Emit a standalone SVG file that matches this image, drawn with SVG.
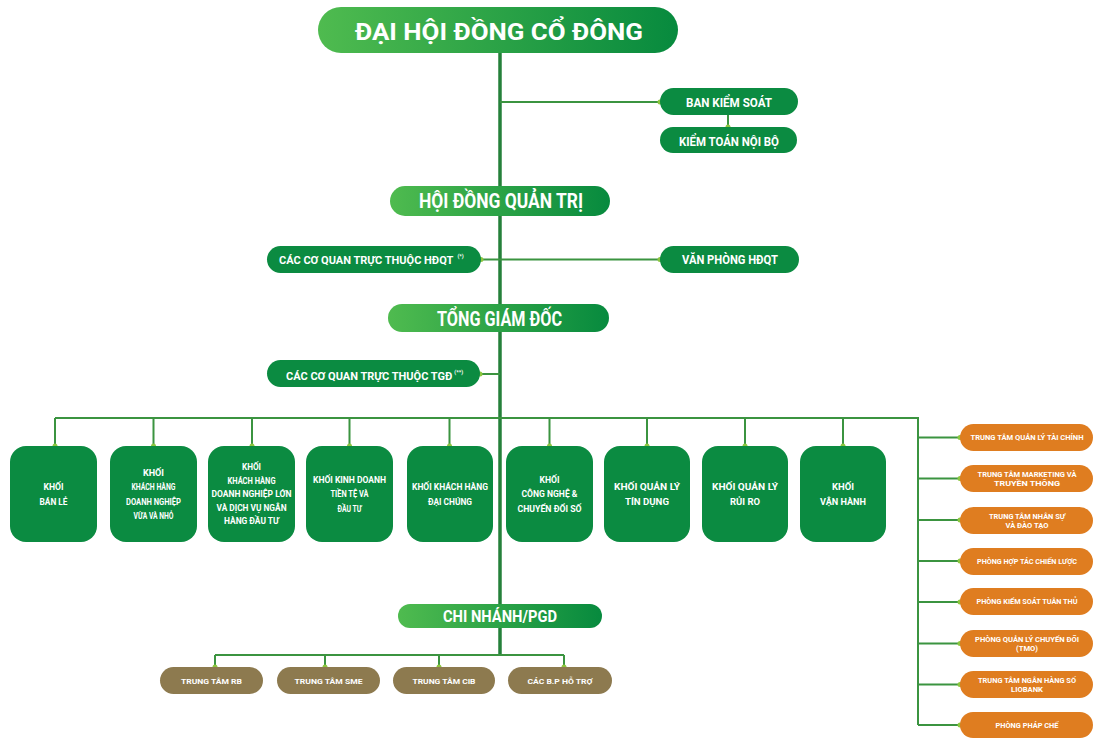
<svg xmlns="http://www.w3.org/2000/svg" width="1094" height="738" viewBox="0 0 1094 738">
<defs>
<linearGradient id="hg" x1="0" y1="0" x2="1" y2="0">
<stop offset="0" stop-color="#4fbb4f"/>
<stop offset="1" stop-color="#078a3e"/>
</linearGradient>
<style>
.hdr{fill:url(#hg)}
.gb{fill:#0b8b41}
.ob{fill:#df7d20}
.bb{fill:#8d7a4f}
.t{font-family:Roboto,"Liberation Sans",sans-serif;font-weight:700;fill:#ffffff;text-anchor:middle}
.ts{font-family:Roboto,"Liberation Sans",sans-serif;font-weight:700;fill:#ffffff;text-anchor:start}
.k{font-size:9.5px}
.o{font-size:7px}
.b{font-size:8px}
.sup{font-size:5.5px}
.ln{stroke:#3b9440;stroke-width:2;fill:none}
.main{stroke:#25803a;stroke-width:3.5;fill:none}
.dot{fill:#8dc63f}
</style>
</defs>
<rect width="1094" height="738" fill="#ffffff"/>

<g id="connectors">
<path class="main" d="M500 53V655"/>
<path class="ln" d="M500 102H660M728 115V127M481 259.5H660M480 374H500"/>
<path class="ln" d="M55 418H918V725M55 418V446M153.5 418V446M252 418V446M349.5 418V446M449.5 418V446M549.5 418V446M647 418V446M745 418V446M843 418V446"/>
<path class="ln" d="M918 437.5H960M918 478.5H960M918 520H960M918 561H960M918 602H960M918 643.5H960M918 684.5H960M918 725H960"/>
<path class="ln" d="M215 655H564M215 655V667M325 655V667M439 655V667M564 655V667"/>
<g>
<circle class="dot" cx="660" cy="102" r="2.5"/>
<circle class="dot" cx="728" cy="127" r="2.5"/>
<circle class="dot" cx="481" cy="259.5" r="2.5"/>
<circle class="dot" cx="660" cy="259.5" r="2.5"/>
<circle class="dot" cx="480" cy="374" r="2.5"/>
<circle class="dot" cx="55" cy="446" r="2.5"/>
<circle class="dot" cx="153.5" cy="446" r="2.5"/>
<circle class="dot" cx="252" cy="446" r="2.5"/>
<circle class="dot" cx="349.5" cy="446" r="2.5"/>
<circle class="dot" cx="449.5" cy="446" r="2.5"/>
<circle class="dot" cx="549.5" cy="446" r="2.5"/>
<circle class="dot" cx="647" cy="446" r="2.5"/>
<circle class="dot" cx="745" cy="446" r="2.5"/>
<circle class="dot" cx="843" cy="446" r="2.5"/>
<circle class="dot" cx="960" cy="437.5" r="2.5"/>
<circle class="dot" cx="960" cy="478.5" r="2.5"/>
<circle class="dot" cx="960" cy="520" r="2.5"/>
<circle class="dot" cx="960" cy="561" r="2.5"/>
<circle class="dot" cx="960" cy="602" r="2.5"/>
<circle class="dot" cx="960" cy="643.5" r="2.5"/>
<circle class="dot" cx="960" cy="684.5" r="2.5"/>
<circle class="dot" cx="960" cy="725" r="2.5"/>
<circle class="dot" cx="215" cy="667" r="2.5"/>
<circle class="dot" cx="325" cy="667" r="2.5"/>
<circle class="dot" cx="439" cy="667" r="2.5"/>
<circle class="dot" cx="564" cy="667" r="2.5"/>
</g>
</g>

<g id="dhdcd">
<rect class="hdr" x="318" y="7" width="360" height="46" rx="23"/>
<text class="t" x="499" y="40" font-size="24" textLength="288" lengthAdjust="spacingAndGlyphs">ĐẠI HỘI ĐỒNG CỔ ĐÔNG</text>
</g>
<g id="bks">
<rect class="gb" x="660" y="88" width="138" height="27" rx="13.5"/>
<text class="t" x="729" y="107" font-size="12" textLength="86" lengthAdjust="spacingAndGlyphs">BAN KIỂM SOÁT</text>
</g>
<g id="ktnb">
<rect class="gb" x="660" y="127" width="137" height="26" rx="13"/>
<text class="t" x="729" y="146" font-size="12" textLength="100" lengthAdjust="spacingAndGlyphs">KIỂM TOÁN NỘI BỘ</text>
</g>
<g id="hdqt">
<rect class="hdr" x="390" y="186" width="220" height="30" rx="15"/>
<text class="t" x="501" y="208" font-size="20" textLength="164" lengthAdjust="spacingAndGlyphs">HỘI ĐỒNG QUẢN TRỊ</text>
</g>
<g id="cq-hdqt">
<rect class="gb" x="267" y="246" width="214" height="27" rx="13.5"/>
<text class="ts" x="279" y="264" font-size="11">CÁC CƠ QUAN TRỰC THUỘC HĐQT<tspan class="sup" dx="4" dy="-6">(*)</tspan></text>
</g>
<g id="vp-hdqt">
<rect class="gb" x="660" y="246" width="139" height="27" rx="13.5"/>
<text class="t" x="730" y="264" font-size="12" textLength="96" lengthAdjust="spacingAndGlyphs">VĂN PHÒNG HĐQT</text>
</g>
<g id="tgd">
<rect class="hdr" x="388" y="304" width="221" height="28" rx="14"/>
<text class="t" x="499.5" y="326" font-size="19.5" textLength="125" lengthAdjust="spacingAndGlyphs">TỔNG GIÁM ĐỐC</text>
</g>
<g id="cq-tgd">
<rect class="gb" x="267" y="360" width="213" height="27" rx="13.5"/>
<text class="ts" x="286" y="379.5" font-size="11">CÁC CƠ QUAN TRỰC THUỘC TGĐ<tspan class="sup" dx="2" dy="-6">(**)</tspan></text>
</g>

<g id="khoi-banle">
<rect class="gb" x="10" y="446" width="87" height="96" rx="16"/>
<text class="t k" x="53.5" y="490.1" textLength="20" lengthAdjust="spacingAndGlyphs">KHỐI</text>
<text class="t k" x="53.5" y="504.6" textLength="28" lengthAdjust="spacingAndGlyphs">BÁN LẺ</text>
</g>
<g id="khoi-sme">
<rect class="gb" x="110" y="446" width="87" height="96" rx="16"/>
<text class="t k" x="153.5" y="475.6" textLength="21" lengthAdjust="spacingAndGlyphs">KHỐI</text>
<text class="t k" x="153.5" y="490.1" textLength="44" lengthAdjust="spacingAndGlyphs">KHÁCH HÀNG</text>
<text class="t k" x="153.5" y="504.6" textLength="55" lengthAdjust="spacingAndGlyphs">DOANH NGHIỆP</text>
<text class="t k" x="153.5" y="519.1" textLength="40" lengthAdjust="spacingAndGlyphs">VỪA VÀ NHỎ</text>
</g>
<g id="khoi-cib">
<rect class="gb" x="208" y="446" width="87" height="96" rx="16"/>
<text class="t k" x="251.5" y="470.4" textLength="19" lengthAdjust="spacingAndGlyphs">KHỐI</text>
<text class="t k" x="251.5" y="483.9" textLength="48" lengthAdjust="spacingAndGlyphs">KHÁCH HÀNG</text>
<text class="t k" x="251.5" y="497.4" textLength="80" lengthAdjust="spacingAndGlyphs">DOANH NGHIỆP LỚN</text>
<text class="t k" x="251.5" y="510.9" textLength="70" lengthAdjust="spacingAndGlyphs">VÀ DỊCH VỤ NGÂN</text>
<text class="t k" x="251.5" y="524.4" textLength="55" lengthAdjust="spacingAndGlyphs">HÀNG ĐẦU TƯ</text>
</g>
<g id="khoi-kdtt">
<rect class="gb" x="306" y="446" width="87" height="96" rx="16"/>
<text class="t k" x="349.5" y="482.9" textLength="73" lengthAdjust="spacingAndGlyphs">KHỐI KINH DOANH</text>
<text class="t k" x="349.5" y="497.4" textLength="38" lengthAdjust="spacingAndGlyphs">TIỀN TỆ VÀ</text>
<text class="t k" x="349.5" y="511.9" textLength="24" lengthAdjust="spacingAndGlyphs">ĐẦU TƯ</text>
</g>
<g id="khoi-dc">
<rect class="gb" x="407" y="446" width="86" height="96" rx="16"/>
<text class="t k" x="450" y="490.1" textLength="76" lengthAdjust="spacingAndGlyphs">KHỐI KHÁCH HÀNG</text>
<text class="t k" x="450" y="504.6" textLength="44" lengthAdjust="spacingAndGlyphs">ĐẠI CHÚNG</text>
</g>
<g id="khoi-cn">
<rect class="gb" x="506" y="446" width="87" height="96" rx="16"/>
<text class="t k" x="549.5" y="482.9" textLength="20" lengthAdjust="spacingAndGlyphs">KHỐI</text>
<text class="t k" x="549.5" y="497.4" textLength="56" lengthAdjust="spacingAndGlyphs">CÔNG NGHỆ &amp;</text>
<text class="t k" x="549.5" y="511.9" textLength="64" lengthAdjust="spacingAndGlyphs">CHUYỂN ĐỔI SỐ</text>
</g>
<g id="khoi-td">
<rect class="gb" x="604" y="446" width="86" height="96" rx="16"/>
<text class="t k" x="647" y="490.1" textLength="66" lengthAdjust="spacingAndGlyphs">KHỐI QUẢN LÝ</text>
<text class="t k" x="647" y="504.6" textLength="44" lengthAdjust="spacingAndGlyphs">TÍN DỤNG</text>
</g>
<g id="khoi-rr">
<rect class="gb" x="702" y="446" width="86" height="96" rx="16"/>
<text class="t k" x="745" y="490.1" textLength="66" lengthAdjust="spacingAndGlyphs">KHỐI QUẢN LÝ</text>
<text class="t k" x="745" y="504.6" textLength="30" lengthAdjust="spacingAndGlyphs">RỦI RO</text>
</g>
<g id="khoi-vh">
<rect class="gb" x="800" y="446" width="86" height="96" rx="16"/>
<text class="t k" x="843" y="490.1" textLength="22" lengthAdjust="spacingAndGlyphs">KHỐI</text>
<text class="t k" x="843" y="504.6" textLength="46" lengthAdjust="spacingAndGlyphs">VẬN HÀNH</text>
</g>

<g id="o-taichinh">
<rect class="ob" x="960" y="424" width="133" height="27" rx="13.5"/>
<text class="t o" x="1027" y="440" textLength="113" lengthAdjust="spacingAndGlyphs">TRUNG TÂM QUẢN LÝ TÀI CHÍNH</text>
</g>
<g id="o-marketing">
<rect class="ob" x="960" y="465" width="133" height="27" rx="13.5"/>
<text class="t o" x="1027" y="476.5" textLength="99" lengthAdjust="spacingAndGlyphs">TRUNG TÂM MARKETING VÀ</text>
<text class="t o" x="1027" y="485.5" textLength="66" lengthAdjust="spacingAndGlyphs">TRUYỀN THÔNG</text>
</g>
<g id="o-nhansu">
<rect class="ob" x="960" y="507" width="133" height="27" rx="13.5"/>
<text class="t o" x="1027" y="518.5" textLength="76" lengthAdjust="spacingAndGlyphs">TRUNG TÂM NHÂN SỰ</text>
<text class="t o" x="1027" y="527.5" textLength="43" lengthAdjust="spacingAndGlyphs">VÀ ĐÀO TẠO</text>
</g>
<g id="o-hoptac">
<rect class="ob" x="960" y="548" width="133" height="27" rx="13.5"/>
<text class="t o" x="1027" y="564" textLength="100" lengthAdjust="spacingAndGlyphs">PHÒNG HỢP TÁC CHIẾN LƯỢC</text>
</g>
<g id="o-tuanthu">
<rect class="ob" x="960" y="588" width="133" height="27" rx="13.5"/>
<text class="t o" x="1027" y="604" textLength="101" lengthAdjust="spacingAndGlyphs">PHÒNG KIỂM SOÁT TUÂN THỦ</text>
</g>
<g id="o-tmo">
<rect class="ob" x="960" y="630" width="133" height="27" rx="13.5"/>
<text class="t o" x="1027" y="641.5" textLength="104" lengthAdjust="spacingAndGlyphs">PHÒNG QUẢN LÝ CHUYỂN ĐỔI</text>
<text class="t o" x="1027" y="650.5" textLength="22" lengthAdjust="spacingAndGlyphs">(TMO)</text>
</g>
<g id="o-liobank">
<rect class="ob" x="960" y="671" width="133" height="27" rx="13.5"/>
<text class="t o" x="1027" y="682.5" textLength="98" lengthAdjust="spacingAndGlyphs">TRUNG TÂM NGÂN HÀNG SỐ</text>
<text class="t o" x="1027" y="691.5" textLength="32" lengthAdjust="spacingAndGlyphs">LIOBANK</text>
</g>
<g id="o-phapche">
<rect class="ob" x="960" y="712" width="133" height="26" rx="13"/>
<text class="t o" x="1027" y="727.5" textLength="63" lengthAdjust="spacingAndGlyphs">PHÒNG PHÁP CHẾ</text>
</g>

<g id="chinhanh">
<rect class="hdr" x="398" y="604" width="204" height="24" rx="12"/>
<text class="t" x="500" y="622" font-size="17" textLength="114" lengthAdjust="spacingAndGlyphs">CHI NHÁNH/PGD</text>
</g>
<g id="b-rb">
<rect class="bb" x="160" y="667" width="103" height="27" rx="13.5"/>
<text class="t b" x="211.5" y="684" textLength="61" lengthAdjust="spacingAndGlyphs">TRUNG TÂM RB</text>
</g>
<g id="b-sme">
<rect class="bb" x="277" y="667" width="103" height="27" rx="13.5"/>
<text class="t b" x="328.5" y="684" textLength="68" lengthAdjust="spacingAndGlyphs">TRUNG TÂM SME</text>
</g>
<g id="b-cib">
<rect class="bb" x="393" y="667" width="102" height="27" rx="13.5"/>
<text class="t b" x="444" y="684" textLength="63" lengthAdjust="spacingAndGlyphs">TRUNG TÂM CIB</text>
</g>
<g id="b-hotro">
<rect class="bb" x="508" y="667" width="104" height="27" rx="13.5"/>
<text class="t b" x="560" y="684" textLength="65" lengthAdjust="spacingAndGlyphs">CÁC B.P HỖ TRỢ</text>
</g>
</svg>
